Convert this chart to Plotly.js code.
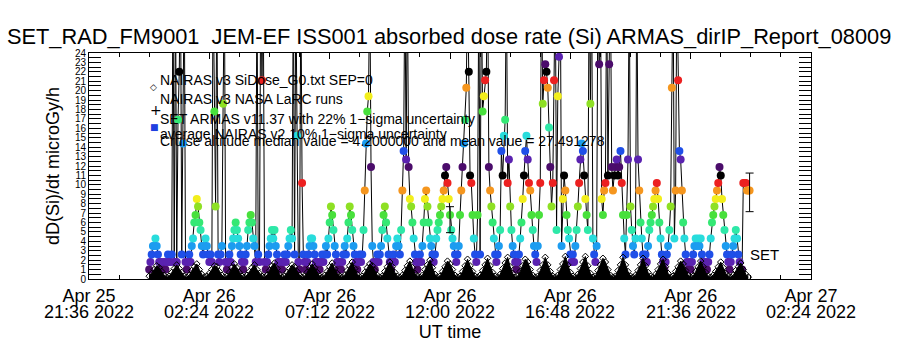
<!DOCTYPE html>
<html><head><meta charset="utf-8">
<script src="https://cdn.plot.ly/plotly-3.0.1.min.js"></script>
<style>html,body{margin:0;padding:0;background:#fff}#chart{width:900px;height:350px}</style>
</head><body><div id="chart"></div>
<script>
// ---------- DATA ----------
// SET ARMAS dose rate (microGy/h), one reading every 3 minutes from 2022-04-26 00:00 UT
// (values above 24 are off-scale spikes)
const setDose0006 = [
1.0,1.8,2.6,3.5,3.5,4.3,3.5,2.6,1.8,1.0,
1.8,1.0,1.8,1.0,1.8,2.6,1.8,1.8,2.6,32,
1.8,32,1.8,16.9,22.0,32,2.6,14.4,32,1.8,
1.0,1.8,2.6,1.8,3.5,4.3,6.0,6.8,8.5,7.7,
6.0,5.2,3.5,2.6,3.5,4.3,3.5,2.6,1.8,2.6,
1.8,32,17.8,7.7,32,2.6,1.8,2.6,3.5,18.6,
32,1.8,1.0,1.8,2.6,1.8,3.5,4.3,5.2,6.0,
5.2,4.3,3.5,2.6,1.8,1.0,1.8,2.6,3.5,5.2,
6.0,6.8,6.0,4.3,3.5,1.8,32,2.6,1.8,32,
21.1,32,1.8,1.0,1.8,2.6,3.5,4.3,5.2,4.3,
5.2,3.5,2.6,1.8,1.0,1.8,1.0,1.8,2.6,1.8,
2.6,3.5,4.3,5.2,4.3,32,2.6,32,15.2,1.8];
const setDose0612 = [
1.0,32,10.2,2.6,1.8,1.0,1.8,2.6,3.5,4.3,
4.3,3.5,2.6,1.8,1.0,1.8,1.0,1.8,2.6,1.8,
2.6,3.5,2.6,4.3,6.0,7.7,6.8,5.2,3.5,2.6,
1.8,1.0,1.8,1.0,1.8,2.6,3.5,2.6,4.3,6.0,
7.7,6.8,5.2,3.5,2.6,1.8,1.0,1.8,2.6,1.8,
2.6,5.2,9.4,14.4,17.8,19.4,32,11.9,3.5,1.8,
1.0,1.8,2.6,1.8,2.6,3.5,5.2,6.8,7.7,6.0,
4.3,2.6,1.8,1.0,1.8,2.6,1.8,3.5,4.3,3.5,
2.6,5.2,9.4,13.6,32,12.7,32,11.9,8.5,7.7,
6.0,4.3,2.6,1.8,1.0,1.8,2.6,1.8,3.5,6.0,
8.5,9.4,7.7,6.0,4.3,3.5,2.6,1.8,2.6,4.3,
5.2,6.0,6.8,7.7,8.5,9.4,11.0,11.9,10.2,8.5];
const setDose1218 = [
6.8,5.2,4.3,3.5,2.6,1.8,2.6,3.5,6.8,9.4,
11.9,14.4,16.9,20.3,32,22.0,11.0,10.2,6.8,4.3,
2.6,1.8,6.8,32,2.6,32,17.8,19.4,21.1,22.0,
32,11.9,9.4,7.7,6.0,4.3,2.6,1.8,2.6,3.5,
5.2,13.6,11.0,15.2,16.9,32,10.2,12.7,7.7,5.2,
3.5,2.6,1.8,1.0,1.8,2.6,4.3,6.0,8.5,11.0,
13.6,15.2,12.7,10.2,9.4,6.8,5.2,3.5,2.6,1.8,
3.5,6.8,10.2,32,18.6,21.1,22.8,22.0,20.3,16.1,
11.9,7.7,10.2,21.1,32,5.2,19.4,23.6,32,3.5,
8.5,11.0,9.4,6.8,5.2,4.3,2.6,1.8,2.6,1.8,
3.5,5.2,7.7,10.2,12.7,14.4,13.6,11.0,8.5,6.8,
5.2,32,18.6,32,4.3,2.6,1.8,3.5,32,22.8];
const setDose1824 = [
32,8.5,6.8,9.4,10.2,32,11.0,22.8,32,11.9,
9.4,11.0,11.9,12.7,11.0,11.9,13.6,10.2,6.8,4.3,
2.6,6.8,12.7,32,7.7,5.2,3.5,2.6,4.3,32,
12.7,9.4,6.0,4.3,2.6,1.8,2.6,1.8,3.5,5.2,
6.0,6.8,7.7,8.5,9.4,10.2,8.5,6.0,4.3,2.6,
1.8,1.0,1.8,2.6,3.5,5.2,7.7,20.3,32,4.3,
9.4,32,21.1,13.6,12.7,9.4,6.0,4.3,2.6,1.8,
1.0,1.8,1.0,1.8,2.6,3.5,4.3,3.5,4.3,3.5,
4.3,2.6,1.8,1.0,1.8,1.0,1.8,2.6,4.3,6.0,
6.8,7.7,8.5,9.4,10.2,11.9,11.0,8.5,6.8,5.2,
3.5,2.6,1.8,1.0,1.8,2.6,3.5,4.3,5.2,4.3,
2.6,1.8,1.0,1.0,10.2,10.2,10.2,9.4,9.4,9.4];
const setStartUT = Date.UTC(2022, 3, 26, 0, 0, 0);
const setStepMinutes = 3;

// NAIRAS v3 SiDose_G0 (microGy/h), one value every 6 minutes from 2022-04-26 00:00 UT
const nairasAM = [
0.3,0.6,1.0,1.4,1.2,0.8,0.4,0.2, 0.3,0.7,1.1,1.5,1.1,0.7,0.3,0.2, 0.4,0.9,1.3,1.6,1.0,0.5,0.2,
0.3,0.6,1.0,1.4,1.3,0.8,0.4,0.2, 0.3,0.7,1.2,1.6,1.2,0.7,0.3,0.2, 0.4,0.8,1.2,1.5,1.0,0.6,0.3,0.2,
0.4,0.9,1.4,1.7,1.1,0.5,0.2, 0.3,0.7,1.1,1.5,1.3,0.8,0.4,0.2, 0.3,0.7,1.2,1.6,1.2,0.7,0.3,0.2,
0.4,0.8,1.3,1.7,1.1,0.6,0.3,0.2, 0.4,0.9,1.4,1.8,1.1,0.5,0.2, 0.3,0.7,1.2,1.6,1.4,0.9,0.4,0.2,
0.3,0.8,1.3,1.8,1.3,0.7,0.3,0.2, 0.4,0.9,1.4,1.9,1.2,0.6,0.3,0.2, 0.4,1.0,1.5,2.0,1.2,0.5,0.2,
0.3,0.8,1.3,1.9];
const nairasPM = [
1.6,1.0,0.4,0.2, 0.3,0.8,1.4,2.1,1.4,0.8,0.3,0.2, 0.4,0.9,1.5,2.2,1.4,0.7,0.3,0.2,
0.5,1.1,1.7,2.3,1.3,0.6,0.2, 0.3,0.8,1.4,2.1,1.8,1.0,0.4,0.2, 0.3,0.9,1.5,2.3,1.5,0.8,0.3,0.2,
0.4,1.0,1.6,2.4,1.5,0.7,0.3,0.2, 0.5,1.1,1.8,2.4,1.4,0.6,0.2, 0.3,0.9,1.5,2.2,1.8,1.0,0.4,0.2,
0.3,0.9,1.5,2.3,1.5,0.8,0.3,0.2, 0.4,0.9,1.5,2.2,1.4,0.7,0.3,0.2, 0.5,1.0,1.6,2.1,1.3,0.6,0.2,
0.3,0.8,1.3,1.9,1.6,0.9,0.4,0.2, 0.3,0.8,1.3,1.9,1.3,0.7,0.3,0.2, 0.4,0.8,1.3,1.8,1.2,0.6,0.3,0.2,
0.4,0.9,1.3,1.7,1.0,0.5,0.2];
const nairasStepMinutes = 6;

// 22% 1-sigma uncertainty bars
const errTimes = ['2022-04-26 12:00:00', '2022-04-26 23:57:00'];
const errCenter = [6.3, 9.2];
const errSigma = [1.38, 2.05];

// axis ticks
const xTickVals = ['2022-04-25 21:36', '2022-04-26 02:24', '2022-04-26 07:12', '2022-04-26 12:00',
                   '2022-04-26 16:48', '2022-04-26 21:36', '2022-04-27 02:24'];
const xTickDay  = ['Apr 25', 'Apr 26', 'Apr 26', 'Apr 26', 'Apr 26', 'Apr 26', 'Apr 27'];
const xTickTime = ['21:36 2022', '02:24 2022', '07:12 2022', '12:00 2022', '16:48 2022', '21:36 2022', '02:24 2022'];

const legendLines = [
  'NAIRAS v3 SiDose_G0.txt SEP=0',
  'NAIRAS v3 NASA LaRC runs',
  'SET ARMAS v11.37 with 22% 1\u2212sigma uncertainty',
  'average NAIRAS v2 10% 1\u2212sigma uncertainty',
  'Cruise altitude median value = 4.2000000 and mean value = 27.491278'
];

// ---------- STYLE ----------
const levelColors = ['#000000','#4b0c6b','#5a22b0','#1f4fe8','#1c9cf0','#28dcdc','#2ee8a8',
                     '#34e874','#48e03c','#8ee024','#f2ee1c','#f5961e','#ec2020'];
const doseQuantum = 0.84, doseOffset = 0.12;
const FONT = 'Liberation Sans, Arial, sans-serif';

function fmt(ms) { return new Date(ms).toISOString().slice(0, 19).replace('T', ' '); }

const setDose = setDose0006.concat(setDose0612, setDose1218, setDose1824);
const setTimes = setDose.map((_, i) => fmt(setStartUT + i * setStepMinutes * 60000));
const setColors = setDose.map(v => {
  const lvl = Math.max(0, Math.round((v - doseOffset) / doseQuantum));
  return levelColors[lvl % 13];
});
const nairas = nairasAM.concat(nairasPM);
const nairasTimes = nairas.map((_, i) => fmt(setStartUT + i * nairasStepMinutes * 60000));

const traces = [
  { x: setTimes, y: setDose, type: 'scatter', mode: 'lines+markers',
    line: { color: '#000', width: 1 },
    marker: { size: 8, color: setColors, line: { width: 0 } }, hoverinfo: 'skip' },
  { x: nairasTimes, y: nairas, type: 'scatter', mode: 'lines+markers',
    fill: 'tozeroy', fillcolor: '#000',
    line: { color: '#000', width: 1 },
    marker: { symbol: 'diamond-open', size: 5, color: '#000', line: { width: 1 } }, hoverinfo: 'skip' },
  { x: errTimes, y: errCenter, type: 'scatter', mode: 'markers',
    marker: { size: 1, color: 'rgba(0,0,0,0)' },
    error_y: { type: 'data', array: errSigma, visible: true, color: '#000', thickness: 1, width: 4 },
    hoverinfo: 'skip' }
];

const annotations = [];
xTickVals.forEach((t, i) => annotations.push({
  x: t, xref: 'x', y: 0, yref: 'paper', yanchor: 'middle', yshift: -33,
  text: xTickTime[i], showarrow: false, font: { family: FONT, size: 18, color: '#000' }
}));
const legendY = [0.881, 0.795, 0.706, 0.643, 0.612];
legendLines.forEach((t, i) => annotations.push({
  x: 0.0956, xref: 'paper', y: legendY[i], yref: 'paper', xanchor: 'left', yanchor: 'middle',
  text: t, showarrow: false, font: { family: FONT, size: 14, color: '#000' }
}));
annotations.push({ x: 0.0817, xref: 'paper', y: 0.881, yref: 'paper', text: '\u25C7', showarrow: false,
  font: { family: 'DejaVu Sans', size: 9, color: '#000' } });
annotations.push({ x: 0.0817, xref: 'paper', y: 0.790, yref: 'paper', text: '+', showarrow: false,
  font: { family: 'DejaVu Sans', size: 14, color: '#000' } });
annotations.push({ x: 0.0817, xref: 'paper', y: 0.704, yref: 'paper', text: '\u25A0', showarrow: false,
  font: { family: 'DejaVu Sans', size: 9, color: '#1f3fe0' } });
annotations.push({ x: '2022-04-26 23:54', xref: 'x', y: 2.55, yref: 'y', xanchor: 'left', yanchor: 'middle',
  text: 'SET', showarrow: false, font: { family: FONT, size: 15, color: '#000' } });

const layout = {
  width: 900, height: 350,
  margin: { l: 89, r: 89, t: 53, b: 71 },
  paper_bgcolor: '#fff', plot_bgcolor: '#fff',
  showlegend: false,
  title: { text: 'SET_RAD_FM9001\u00a0 JEM-EF ISS001 absorbed dose rate (Si) ARMAS_dirIP_Report_08009',
           x: 0.499, xanchor: 'center', y: 0.897, yanchor: 'middle',
           font: { family: FONT, size: 21.8, color: '#000' } },
  xaxis: {
    type: 'date', range: ['2022-04-25 21:36', '2022-04-27 02:24'],
    tickmode: 'array', tickvals: xTickVals, ticktext: xTickDay,
    ticks: 'inside', ticklen: 6, tickcolor: '#000', tickwidth: 1,
    showline: true, linecolor: '#000', linewidth: 1, mirror: 'allticks',
    showgrid: false, zeroline: false,
    minor: { tick0: '2022-04-25 21:36', dtick: 4320000, ticks: 'inside', ticklen: 4, tickcolor: '#000', showgrid: false },
    tickfont: { family: FONT, size: 18, color: '#000' },
    title: { text: 'UT time', standoff: 20, font: { family: FONT, size: 18, color: '#000' } }
  },
  yaxis: {
    range: [0, 24], tickmode: 'linear', tick0: 0, dtick: 1,
    ticks: 'inside', ticklen: 12, tickcolor: '#000', tickwidth: 1,
    showline: true, linecolor: '#000', linewidth: 1, mirror: 'allticks',
    showgrid: false, zeroline: false,
    minor: { dtick: 0.5, ticks: 'inside', ticklen: 12, tickcolor: '#000', showgrid: false },
    tickfont: { family: FONT, size: 10, color: '#000' },
    title: { text: 'dD(Si)/dt microGy/h', standoff: 10, font: { family: FONT, size: 18, color: '#000' } }
  },
  annotations: annotations
};

Plotly.newPlot('chart', traces, layout, { staticPlot: true, displayModeBar: false });
</script>
</body></html>
